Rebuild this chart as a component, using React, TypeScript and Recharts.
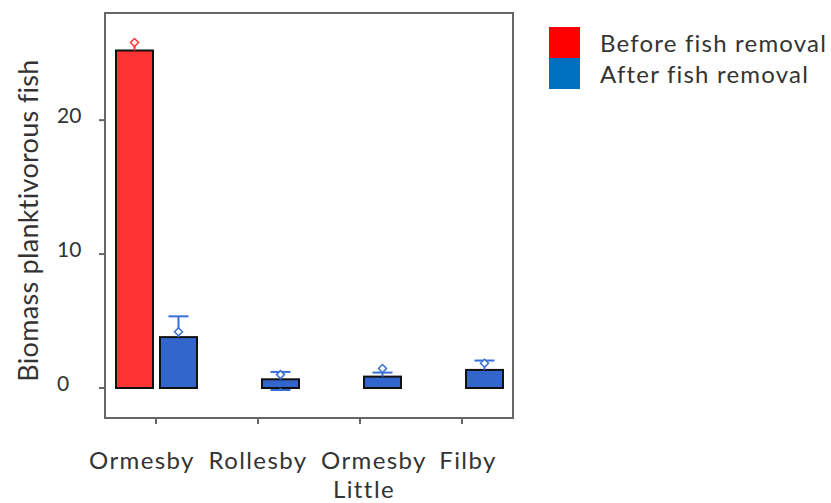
import React from "react";
import { BarChart, Bar, XAxis, YAxis, ReferenceArea } from "recharts";

// values
const lakes = ["Ormesby", "Rollesby", "Little Ormesby", "Filby"];
const tickLines = [["Ormesby"], ["Rollesby"], ["Ormesby", "Little"], ["Filby"]];
const before = [25.2, null, null, null];
const after = [3.8, 0.65, 0.85, 1.35];
const beforeMean = [25.8, null, null, null];
const afterMean = [4.2, 1.0, 1.45, 1.85];
const beforeHigh = [null, null, null, null];
const afterHigh = [5.35, 1.2, 1.15, 2.05];
const afterLow = [null, -0.15, null, null];
const yTicks = [0, 10, 20];
const yDomain = [-2.24, 28];

const seriesNames = ["Before fish removal", "After fish removal"];
const legendColors = ["#FF0000", "#0070C0"];

const data = lakes.map((lake, i) => ({
  lake,
  before: before[i],
  after: after[i],
  beforeMean: beforeMean[i],
  afterMean: afterMean[i],
  beforeHigh: beforeHigh[i],
  afterHigh: afterHigh[i],
  afterLow: afterLow[i],
}));

const FONT = "Lato, 'Open Sans', sans-serif";

// bar + whisker + mean diamond, converted with the bar's own pixel scale
function makeShape(prefix: string, fill: string, line: string) {
  return (props: any) => {
    const { x, y, width, height, payload } = props;
    const value = payload[prefix];
    if (value == null || !height) return <g />;
    const ppu = height / value;
    const zeroY = y + height;
    const toY = (v: number) => zeroY - v * ppu;
    const cx = x + width / 2;
    const mean = payload[prefix + "Mean"];
    const high = payload[prefix + "High"];
    const low = payload[prefix + "Low"];
    const top = Math.max(high ?? value, mean ?? value);
    const my = mean != null ? toY(mean) : 0;
    return (
      <g>
        <rect x={x} y={y} width={width} height={height} fill={fill} stroke="#111" strokeWidth={2} />
        <line x1={cx} x2={cx} y1={toY(value)} y2={toY(top)} stroke={line} strokeWidth={2} />
        {high != null && (
          <line x1={cx - 10} x2={cx + 10} y1={toY(high)} y2={toY(high)} stroke={line} strokeWidth={2} />
        )}
        {low != null && (
          <>
            <line x1={cx} x2={cx} y1={toY(0)} y2={toY(low)} stroke={line} strokeWidth={2} />
            <line x1={cx - 10} x2={cx + 10} y1={toY(low)} y2={toY(low)} stroke={line} strokeWidth={2} />
          </>
        )}
        {mean != null && (
          <polygon
            points={`${cx},${my - 4} ${cx + 4},${my} ${cx},${my + 4} ${cx - 4},${my}`}
            fill="#fff"
            stroke={line}
            strokeWidth={1.5}
          />
        )}
      </g>
    );
  };
}

// labels in the original sit a little off their ticks
const labelShift = [-14, 0, 14, 6];

const XTick = (props: any) => {
  const { x, y, index } = props;
  const lines = tickLines[index] || [];
  return (
    <g>
      {lines.map((t, k) => (
        <text
          key={k}
          x={x + (k === 0 ? labelShift[index] : 4)}
          y={y + 43 + k * 29}
          textAnchor="middle"
          fill="#333"
          fontSize={24}
          fontFamily={FONT}
          letterSpacing={1.4}
        >
          {t}
        </text>
      ))}
    </g>
  );
};

const YTick = (props: any) => {
  const { x, y, payload } = props;
  return (
    <text x={x - 40} y={y + 3} textAnchor="start" fill="#333" fontSize={21} fontFamily={FONT}>
      {payload.value}
    </text>
  );
};

const YLabel = (props: any) => {
  const vb = props.viewBox || { x: 0, y: 13, height: 405 };
  const cx = vb.x + 27;
  const cy = vb.y + vb.height / 2 + 5;
  return (
    <text
      x={cx}
      y={cy}
      transform={`rotate(-90, ${cx}, ${cy})`}
      textAnchor="middle"
      dominantBaseline="central"
      fill="#333"
      fontSize={27}
      fontFamily={FONT}
      letterSpacing={0.3}
    >
      Biomass planktivorous fish
    </text>
  );
};

export default function App() {
  return (
    <div style={{ position: "absolute", left: 0, top: 0, width: 831, height: 503, background: "#fff" }}>
      <BarChart
        width={831}
        height={503}
        data={data}
        margin={{ top: 13, right: 318, left: 0, bottom: 25 }}
        barSize={37}
        barGap={7}
      >
        <XAxis
          dataKey="lake"
          height={60}
          stroke="#666"
          strokeWidth={2}
          tickSize={6}
          tick={<XTick />}
          interval={0}
        />
        <YAxis
          width={105}
          domain={yDomain}
          ticks={yTicks}
          allowDataOverflow
          stroke="#666"
          strokeWidth={2}
          tickSize={6}
          tick={<YTick />}
          label={<YLabel />}
        />
        <ReferenceArea y1={yDomain[0]} y2={yDomain[1]} fill="none" stroke="#666" strokeWidth={2} ifOverflow="visible" />
        <Bar dataKey="before" isAnimationActive={false} shape={makeShape("before", "#FF3333", "#FF3333")} />
        <Bar dataKey="after" isAnimationActive={false} shape={makeShape("after", "#3366CC", "#3A6FD8")} />
      </BarChart>
      <div style={{ position: "absolute", left: 549, top: 27, fontFamily: FONT }}>
        {seriesNames.map((name, i) => (
          <div key={name} style={{ display: "flex", alignItems: "center", height: 31 }}>
            <div style={{ width: 31, height: 31, background: legendColors[i] }} />
            <span style={{ marginLeft: 20, fontSize: 24, color: "#333", letterSpacing: 1.2, whiteSpace: "nowrap" }}>
              {name}
            </span>
          </div>
        ))}
      </div>
    </div>
  );
}
